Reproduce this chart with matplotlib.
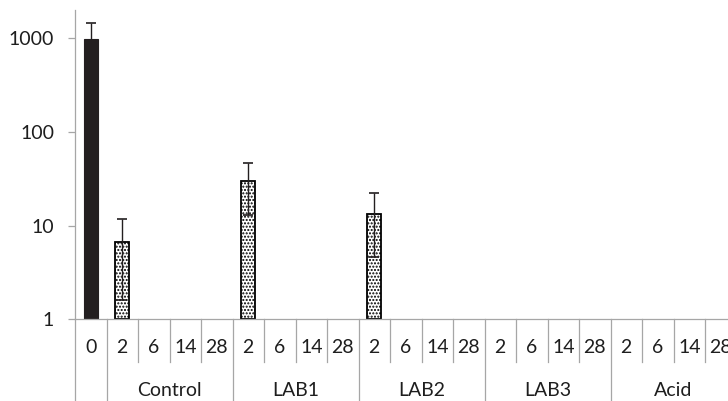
import numpy as np
import matplotlib
matplotlib.use("Agg")
import matplotlib.pyplot as plt
import matplotlib.transforms as mtransforms

plt.rcParams['font.family'] = ['Lato', 'DejaVu Sans']
plt.rcParams['hatch.linewidth'] = 1.0

# ---- data ----
groups = ["Control", "LAB1", "LAB2", "LAB3", "Acid"]
days = ["2", "6", "14", "28"]
first_label = "0"
tick_labels = [first_label] + days * len(groups)
values = [973, 6.7, 0, 0, 0, 29.9, 0, 0, 0, 13.4, 0, 0, 0,
          0, 0, 0, 0, 0, 0, 0, 0]
errors = [470, 5.1, 0, 0, 0, 17.0, 0, 0, 0, 8.8, 0, 0, 0,
          0, 0, 0, 0, 0, 0, 0, 0]
yticks = [1, 10, 100, 1000]

W, H = 728, 401
fig = plt.figure(figsize=(W / 100, H / 100), dpi=100)
left, right, bottom_px, top_px = 75, 736.5, 319.3, 10
ax = fig.add_axes([left / W, (H - bottom_px) / H, (right - left) / W,
                   (bottom_px - top_px) / H])

n = len(values)
x = np.arange(n)
gray = '#a6a6a6'
txt = '#1e1e1e'
fs = 14

for i in range(n):
    v = values[i]
    if v <= 0:
        continue
    if i == 0:
        ax.bar(x[i], v - 1, bottom=1, width=0.44, color='#231f20',
               edgecolor='#231f20', linewidth=0.8, zorder=2)
    else:
        ax.bar(x[i], v - 1, bottom=1, width=0.44, color='white',
               edgecolor='black', hatch='.....', linewidth=1.3, zorder=2)
    ax.errorbar(x[i], v, yerr=errors[i], fmt='none', ecolor='#231f20',
                elinewidth=1.0, capsize=3.6, capthick=1.2, zorder=3)

ax.set_yscale('log')
ax.set_ylim(1, 2000)
ax.set_xlim(-0.5, n - 0.5)
ax.set_yticks(yticks)
ax.set_yticklabels([str(t) for t in yticks])
ax.yaxis.set_minor_locator(matplotlib.ticker.NullLocator())
ax.tick_params(axis='y', length=5, width=0.9, color=gray, pad=10,
               labelsize=fs, labelcolor=txt)
ax.set_xticks([])

for s in ['top', 'right']:
    ax.spines[s].set_visible(False)
for s in ['left', 'bottom']:
    ax.spines[s].set_color(gray)
    ax.spines[s].set_linewidth(0.9)

trans = mtransforms.blended_transform_factory(ax.transData, ax.transAxes)
axh = bottom_px - top_px
inner_end = -42.4 / axh
outer_end = -90 / axh
num_y = -28.4 / axh
grp_y = -70.7 / axh

# separators
for b in range(n + 1):
    xb = b - 0.5
    is_group = (b <= 1) or ((b - 1) % 4 == 0)
    yend = outer_end if is_group else inner_end
    ax.plot([xb, xb], [0, yend], color=gray, lw=0.9, transform=trans,
            clip_on=False)

for i, lab in enumerate(tick_labels):
    ax.text(x[i], num_y, lab, transform=trans, ha='center', va='center',
            fontsize=fs, color=txt)

for g, name in enumerate(groups):
    xc = 1 + g * 4 + 1.5
    ax.text(xc, grp_y, name, transform=trans, ha='center', va='center',
            fontsize=fs, color=txt)

fig.savefig('out.png', dpi=100)
